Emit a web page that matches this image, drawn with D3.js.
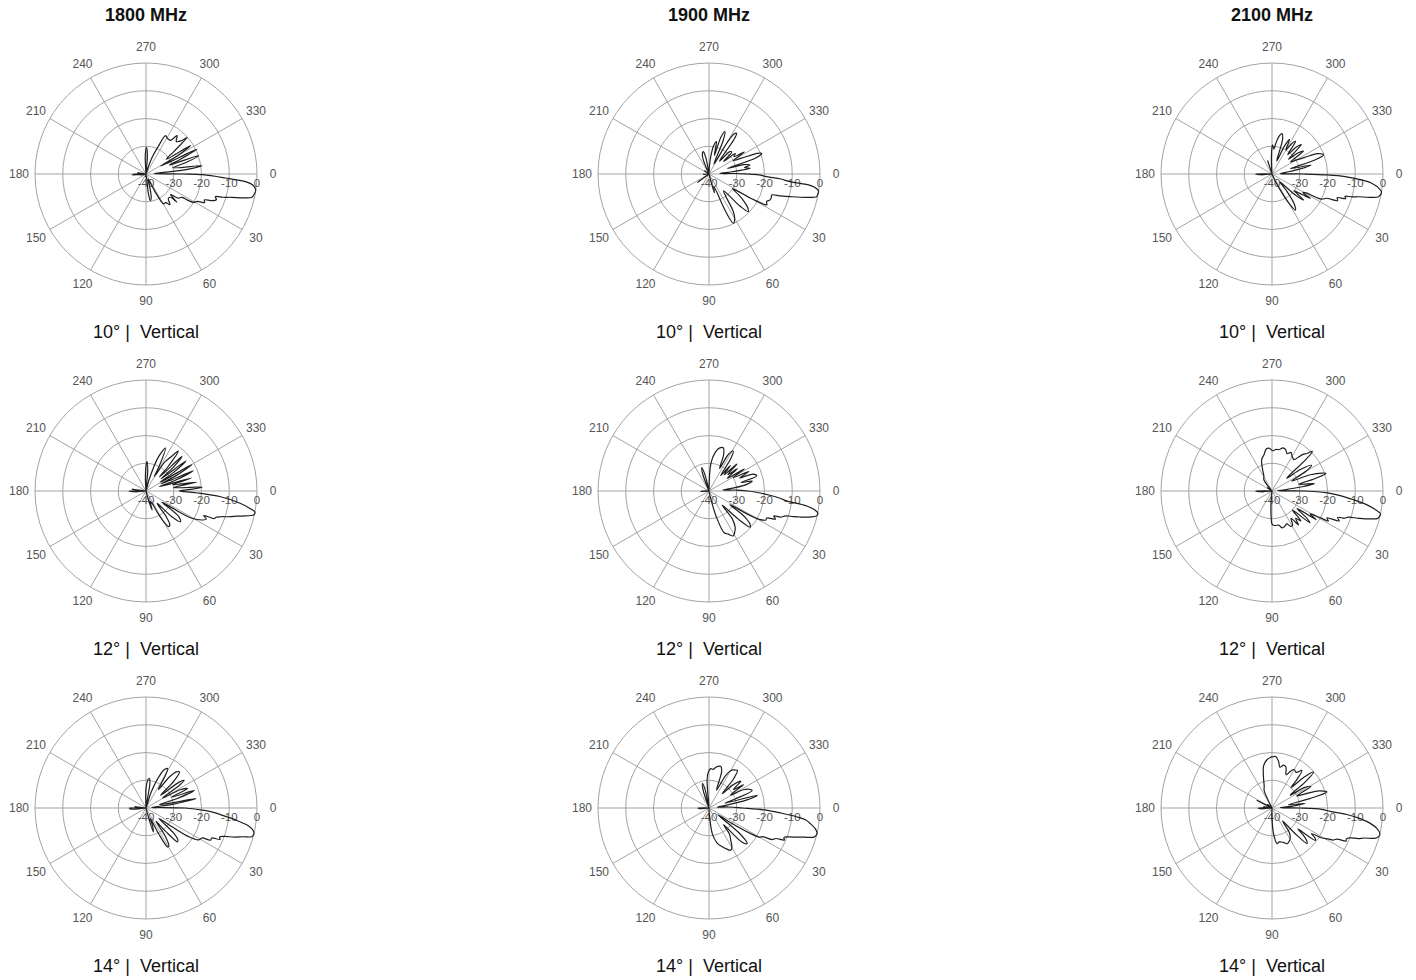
<!DOCTYPE html>
<html>
<head>
<meta charset="utf-8">
<script src="https://cdn.jsdelivr.net/npm/d3@7"></script>
<style>
  body { margin: 0; background: #fff; }
  svg { display: block; }
  text { font-family: "Liberation Sans", Arial, sans-serif; }
</style>
</head>
<body>
<svg id="chart" width="1416" height="980"></svg>
<script>
// Column headers (frequency bands) and row captions (electrical tilt)
const bands = ["1800 MHz", "1900 MHz", "2100 MHz"];
const tilts = ["10°", "12°", "14°"];
const polarization = "Vertical";

// Polar axis ticks: azimuth in degrees (0 = right, clockwise) and level rings in dB
const angleTicks = [0, 30, 60, 90, 120, 150, 180, 210, 240, 270, 300, 330];
const levelTicks = [-40, -30, -20, -10, 0];

// Vertical radiation patterns, [angle in degrees, relative level in dB]
const p1800_10 = [
  [176,-35],[180,-36],[184,-42],[188,-37],[192,-45],[230,-45],[255,-45],[264,-42],[268,-33],[271,-30.4],[274,-33],[278,-44],
  [284,-40],[290,-34],[294,-29],[297,-24.5],[301,-25],[306,-25],[309,-22.2],[313,-24],[317,-22.3],[318.5,-20.2],[321,-27],
  [324,-31],[327.4,-21],[330,-27],[332,-34],[334,-19.6],[337,-27],[339,-31],[340.8,-19.9],[344,-25],[347,-30],[351.5,-19.6],
  [354,-26],[356,-37],[358,-36],[0,-26.4],[0.7,-19.6],[2.9,-11.4],[4.6,-3.5],[6,-1.2],[7.8,-0.2],[8.7,0],[10.5,-0.3],
  [12.4,-0.9],[13.8,-4],[15.2,-8],[16.8,-11],[18.1,-13.7],[20,-13],[22,-14.3],[24,-17],[26,-16.5],[28,-19],[30.7,-20],
  [32,-21.9],[33,-24.5],[37,-25.5],[40,-28.5],[42.4,-24.9],[43.8,-27.9],[48,-28],[52,-26],[55.7,-27.5],[59.5,-27.5],[63,-33],
  [68,-38],[74,-35],[78,-31],[80.8,-30.3],[83,-33],[86,-45],[100,-39],[104,-45],[120,-45],[150,-45],[165,-45],[170,-38],[173,-42]
];
const p1900_10 = [
  [176,-38],[180,-40],[185,-45],[200,-45],[215,-38],[220,-45],[240,-45],[246,-40],[250,-33],[256,-31.7],[259,-34],[262,-42],
  [268,-45],[274,-36],[279,-30],[283,-28],[286,-33],[288,-26],[290.7,-23.7],[293,-27],[296,-36],[300,-27],[302,-23],[304.2,-22.3],
  [306,-25],[309,-34],[313,-29],[316,-28.6],[319,-33],[322,-28],[325,-29],[328,-25],[331,-30],[334,-27],[337,-21],[338.6,-19.6],
  [341,-22],[343,-33],[345,-27],[347.6,-24.9],[350,-27],[352,-25],[355,-33],[357,-36],[359,-30],[0,-26.4],[1,-22],[2.6,-19.2],
  [4,-14],[5.4,-10.7],[6.5,-3],[8,-0.6],[9,0],[11,-0.2],[11.9,-0.4],[13.5,-4],[15.6,-9.7],[17,-13],[18.5,-16.2],[20.5,-16],
  [23,-16.1],[25.5,-17],[28,-16.4],[30,-22],[32,-30],[35,-27],[38,-24],[41,-21.5],[43.8,-20.4],[46,-24],[49,-32],[53,-30],
  [57,-24],[60,-21.5],[63.7,-20.2],[66,-25],[69,-35],[74,-33],[78,-42],[85,-45],[120,-45],[140,-40],[144,-35],[148,-42],
  [160,-45],[172,-45]
];
const p2100_10 = [
  [176,-36],[180,-34],[183,-40],[190,-45],[240,-45],[248,-40],[252,-35],[255,-41],[262,-45],[268,-34],[271,-29.5],[274,-31],
  [277,-29],[280,-26.5],[284,-25],[287,-27],[290,-35],[294,-29],[297,-26],[300,-30],[303,-27],[306,-25.5],[309,-31],[312,-27],
  [315,-25],[318,-32],[321,-28],[324,-26],[327,-32],[330,-30],[333,-27],[336,-22],[339.8,-20.2],[342,-24],[344,-33],[347,-25.6],
  [350,-30],[353,-35],[357,-37],[0,-28.6],[1,-20],[2.1,-13.6],[4,-7],[5.3,-3.9],[8,-0.8],[9.5,0],[12,-0.7],[13.5,-4],[14.7,-7.7],
  [16,-10],[17,-12.5],[18.5,-12],[20,-15],[22,-14.5],[24,-18.5],[27,-20],[29,-26],[31,-27],[32.4,-23.6],[35,-28],[37,-30],
  [39.4,-25.2],[42,-29],[45,-36],[49,-32],[53,-27],[57,-24.5],[60,-28],[63,-34],[67,-38],[72,-40],[80,-45],[130,-45],[160,-45],
  [170,-40],[173,-45]
];
const p1800_12 = [
  [176,-36],[180,-33.8],[183,-40],[187,-35],[191,-45],[230,-45],[262,-45],[267,-36],[270,-31],[272,-29.4],[275,-33],[279,-44],
  [285,-36],[290,-27],[294.4,-23],[298,-30],[300,-34],[303,-27.5],[306,-25],[309,-21.5],[312,-28],[314,-33],[316,-22],[319,-27],
  [321,-33],[323,-22],[326,-28],[328,-34],[330,-21],[333,-28],[335,-34],[337,-21.5],[340,-29],[342,-35],[344,-23],[347,-30],
  [350,-21.5],[353,-30],[356,-19.6],[358,-24],[0,-28],[2,-22],[4.4,-13],[7.4,-5.8],[9.5,-2],[11,0],[12.6,-0.3],[14,-3],[15.5,-6],
  [17,-8.3],[19,-11.5],[20.5,-13],[22,-13.5],[23,-17.4],[25,-16],[27,-17],[30.7,-20.8],[33,-29],[35,-33],[38,-25],[41.8,-23.4],
  [45,-27],[48,-34],[52,-28],[55,-25],[57.6,-24.8],[61,-29],[64,-35],[68,-36],[72,-32.8],[75,-37],[80,-45],[120,-45],[165,-45],
  [172,-40]
];
const p1900_12 = [
  [176,-37],[180,-38],[184,-45],[200,-45],[240,-45],[246,-40],[250,-33],[253,-31.2],[256,-34],[261,-44],[268,-40],[274,-30],
  [279,-26],[284,-24],[288.3,-23.6],[292,-26],[295,-31],[298,-25],[301.3,-23.2],[304,-26],[307,-33],[310,-28],[313,-32],[316,-26],
  [319,-31],[322,-27],[325,-32],[328,-25],[331,-30],[334,-24],[337,-28],[339,-23],[342.5,-22],[345,-28],[347,-24],[350,-26.2],
  [353,-31],[356,-35],[358,-30],[0,-26],[1,-24],[4,-18],[6,-14],[7.3,-11.8],[8.7,-4.4],[10,-1.5],[11.4,0],[13,-0.2],[14.5,-2.5],
  [16,-6],[16.9,-8.3],[18,-11],[20,-12.5],[21,-15],[23,-14],[25,-17],[27,-17],[29.4,-19.2],[31,-24],[33,-31],[36,-24],[39,-21],
  [41.3,-20.3],[44,-26],[47,-33],[50,-27],[54,-24],[58,-22.5],[61.6,-21.6],[66,-23],[70,-24],[74,-30],[78,-38],[85,-45],[150,-45],
  [170,-45]
];
const p2100_12 = [
  [176,-36],[180,-34],[184,-40],[190,-45],[200,-45],[215,-38],[220,-45],[228,-40],[234,-35],[241,-34],[247.2,-31],[252,-28],
  [257.6,-26.6],[262,-24.8],[266,-24.5],[271,-25.5],[275,-25],[280,-24.8],[284,-24],[288.3,-24.3],[292,-25.5],[296,-24.5],
  [300,-25.5],[305,-26.2],[308,-24.5],[310,-22.9],[313,-21.5],[315.5,-19.6],[317,-23],[319,-33],[323,-27],[327,-23],[330,-26],
  [333,-32],[337,-25],[340.3,-20.8],[342,-19.5],[344,-24],[346,-30],[350,-24.4],[352,-29],[355,-36],[358,-38],[0,-28.6],[2,-20],
  [4,-15],[5.9,-11],[8,-6],[10,-2.5],[12,0],[13.5,-0.3],[14.5,-0.6],[16,-3.5],[17.5,-7.3],[19,-11],[20.5,-12],[22,-14.5],[24,-13.5],
  [26,-18],[28,-17],[29,-20],[31,-24],[33,-21],[35,-29],[38,-24],[40,-22.2],[43,-30],[46,-25],[49,-27],[52,-24.5],[55,-28],
  [59,-25.6],[62,-25.6],[66,-27],[70,-26.5],[74.4,-26.2],[79,-27.5],[84,-27.5],[89.4,-27.9],[92,-31],[95,-36],[99,-45],
  [140,-45],[165,-45],[172,-40]
];
const p1800_14 = [
  [176,-34.5],[180,-34],[183,-40],[186,-36],[190,-45],[230,-45],[264,-42],[270,-33],[274,-29.8],[276.5,-29.3],[279,-31],[283,-42],
  [288,-34],[293,-27],[296,-24.5],[298.8,-23.8],[301,-27],[304,-32],[307,-26],[310,-23],[313,-22.3],[316,-26],[319,-33],[322,-25],
  [324.2,-23],[326,-26],[329,-33],[332,-26],[335,-23.5],[337,-30],[340,-21.5],[343,-28],[346,-35],[349.4,-21.7],[352,-30],
  [355,-38],[358,-35],[0,-26],[2.3,-19],[4,-15],[6.3,-10.5],[8,-6.5],[9.7,-2.9],[11.5,-0.8],[13.1,0],[14.5,-0.2],[15.2,-0.5],
  [16.5,-3.5],[18.2,-6.5],[20,-10],[21.5,-11.5],[23,-11],[24.5,-14],[26.5,-14],[28,-17],[30,-17.5],[31.5,-18],[33.8,-21.2],
  [36,-29],[39,-34],[42,-27],[44.5,-24],[47,-23.3],[50,-29],[53,-34],[56,-27],[59,-24],[61,-24],[64,-30],[67,-36],[70,-33],
  [73,-31],[76,-38],[82,-45],[140,-45],[170,-45]
];
const p1900_14 = [
  [176,-37],[180,-36],[183,-42],[190,-45],[200,-45],[210,-40],[213,-45],[240,-45],[246,-40],[252,-33],[255,-30.9],[258,-33],
  [262,-40],[266,-30],[269,-27],[272.4,-25.8],[276,-26],[280,-25],[285.6,-24.4],[289,-26],[293,-33],[297,-27],[301,-24],
  [304,-23.5],[307,-23],[310,-26],[313,-33],[316,-28],[320,-25],[323,-29],[326,-25],[329,-31],[332,-26],[335,-24],[338,-23.2],
  [341,-30],[343,-34],[345.3,-22],[348,-26],[351,-34],[354,-37],[357,-33],[0,-28],[2,-20],[4,-14],[5.8,-8],[7,-5],[8.8,-3],
  [11,-1],[13.1,0],[14.5,-0.2],[15.5,-0.8],[17,-4],[18.3,-6.5],[20,-9.5],[21.5,-11],[23,-10.5],[24.5,-13.5],[26.5,-14.5],
  [28,-18],[30,-19],[31.6,-22.4],[34,-30],[37,-36],[40,-25],[43,-21.2],[46,-23],[49,-32],[52,-28],[56,-26],[60,-23.5],
  [63,-22.9],[67,-24],[72,-25.5],[77,-27],[82.6,-30.6],[86,-37],[90,-45],[140,-45],[170,-45]
];
const p2100_14 = [
  [176,-36],[180,-35],[184,-40],[188,-37],[195,-45],[203,-40],[207,-34],[211,-45],[218,-38],[222,-45],[230,-45],[240,-40],
  [246,-33],[250,-31.8],[254,-29],[258,-25],[260.2,-23.8],[264,-22.5],[268,-21.8],[270,-21.6],[274,-21.4],[278,-23],[281,-25],
  [285.3,-24],[289,-24.5],[293,-27],[297,-25],[300,-24],[304,-24.5],[308.5,-22.7],[311,-26],[313,-30],[316,-24],[319.2,-20.2],
  [322,-25],[325,-32],[328,-26],[331,-24],[334,-30],[337,-27],[340,-22],[343.8,-19.4],[346,-26],[349,-34],[352,-28],[355,-33],
  [358,-37],[0,-30],[1.5,-22],[3.3,-19],[5,-13],[6.9,-8],[9,-4],[11,-1.5],[13.5,0],[15,-0.2],[16.5,-1.5],[18,-5],[19.5,-7],
  [21,-10],[22.5,-11],[24,-10.8],[25.5,-14],[27.5,-15],[29,-17],[31,-19],[33,-23],[35,-21],[36.7,-20.5],[39,-28],[41,-25],
  [43,-23],[45.5,-22],[48,-28],[51,-34],[55,-29],[60,-27],[63,-26.5],[67,-26],[72,-27],[78,-27.5],[82,-27],[86,-30],[90,-36],
  [95,-45],[120,-45],[160,-45],[172,-40]
];

// Rows follow the tilt captions, columns follow the band headers
const patterns = [
  [p1800_10, p1900_10, p2100_10],
  [p1800_12, p1900_12, p2100_12],
  [p1800_14, p1900_14, p2100_14]
];

const colX = [146, 709, 1272];
const rowY = [174, 491, 808];
const R = 111;

const svg = d3.select("#chart");

const rScale = d3.scaleLinear().domain([-40, 0]).range([0, R]).clamp(true);
const toRad = deg => (deg + 90) * Math.PI / 180;   // lineRadial angle: 0 at top, clockwise
const polar = (deg, rr) => [rr * Math.cos(deg * Math.PI / 180), rr * Math.sin(deg * Math.PI / 180)];

const patternLine = d3.lineRadial()
  .angle(d => toRad(d[0]))
  .radius(d => rScale(d[1]))
  .curve(d3.curveCatmullRomClosed.alpha(0.5));

// Band headers
svg.selectAll("text.band")
  .data(bands)
  .join("text")
  .attr("class", "band")
  .attr("x", (d, i) => colX[i])
  .attr("y", 21)
  .attr("text-anchor", "middle")
  .attr("font-size", 18)
  .attr("font-weight", "bold")
  .attr("fill", "#111")
  .text(d => d);

patterns.forEach((row, ri) => {
  row.forEach((data, ci) => {
    const g = svg.append("g").attr("transform", `translate(${colX[ci]},${rowY[ri]})`);

    // level rings
    g.selectAll("circle.ring")
      .data(levelTicks.slice(1))
      .join("circle")
      .attr("class", "ring")
      .attr("r", d => rScale(d))
      .attr("fill", "none")
      .attr("stroke", "#a3a3a3")
      .attr("stroke-width", 1);

    // azimuth spokes
    g.selectAll("line.spoke")
      .data(angleTicks)
      .join("line")
      .attr("class", "spoke")
      .attr("x1", 0).attr("y1", 0)
      .attr("x2", d => polar(d, R)[0])
      .attr("y2", d => polar(d, R)[1])
      .attr("stroke", "#a3a3a3")
      .attr("stroke-width", 1);

    // azimuth labels
    g.selectAll("text.ang")
      .data(angleTicks)
      .join("text")
      .attr("class", "ang")
      .attr("x", d => polar(d, R + 16)[0])
      .attr("y", d => polar(d, R + 16)[1])
      .attr("dy", "0.35em")
      .attr("text-anchor", "middle")
      .attr("font-size", 12)
      .attr("fill", "#555")
      .text(d => d);

    // level labels along the 0° spoke
    g.selectAll("text.lvl")
      .data(levelTicks)
      .join("text")
      .attr("class", "lvl")
      .attr("x", d => rScale(d))
      .attr("y", 13)
      .attr("text-anchor", "middle")
      .attr("font-size", 11.5)
      .attr("fill", "#555")
      .text(d => d);

    // radiation pattern
    g.append("path")
      .datum(data)
      .attr("d", patternLine)
      .attr("fill", "none")
      .attr("stroke", "#1e1e1e")
      .attr("stroke-width", 1.2)
      .attr("stroke-linejoin", "round");

    // caption
    g.append("text")
      .attr("x", 0)
      .attr("y", 164)
      .attr("text-anchor", "middle")
      .attr("font-size", 18)
      .attr("fill", "#111")
      .style("white-space", "pre")
      .text(`${tilts[ri]} |  ${polarization}`);
  });
});
</script>
</body>
</html>
